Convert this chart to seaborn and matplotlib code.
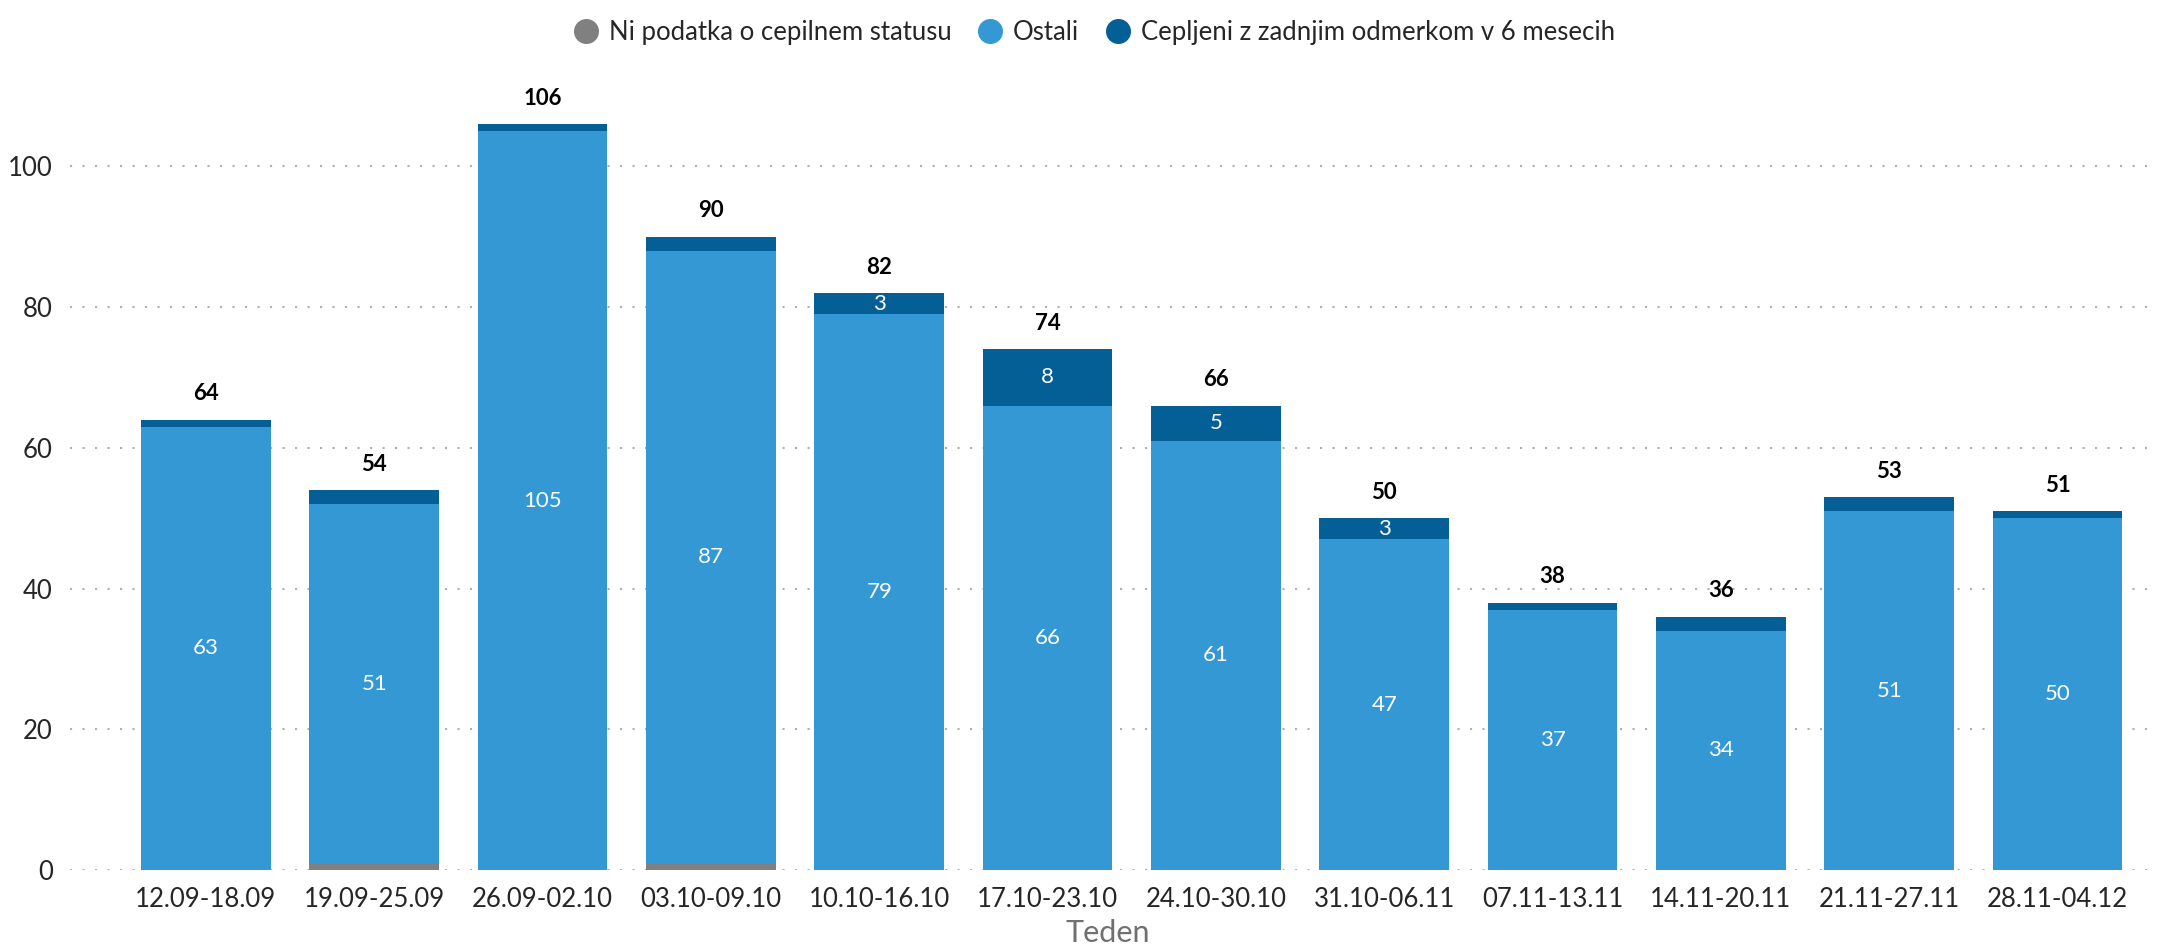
import numpy as np
import pandas as pd
import matplotlib
matplotlib.use("Agg")
import matplotlib.pyplot as plt
import seaborn as sns
from matplotlib.lines import Line2D

# weekly data
weeks = ["12.09-18.09", "19.09-25.09", "26.09-02.10", "03.10-09.10", "10.10-16.10",
         "17.10-23.10", "24.10-30.10", "31.10-06.11", "07.11-13.11", "14.11-20.11",
         "21.11-27.11", "28.11-04.12"]
ni_podatka = [0, 1, 0, 1, 0, 0, 0, 0, 0, 0, 0, 0]
ostali = [63, 51, 105, 87, 79, 66, 61, 47, 37, 34, 51, 50]
cepljeni = [1, 2, 1, 2, 3, 8, 5, 3, 1, 2, 2, 1]

series_names = ["Ni podatka o cepilnem statusu", "Ostali", "Cepljeni z zadnjim odmerkom v 6 mesecih"]
colors = ["#808080", "#3498d4", "#035f96"]

sns.set_theme(style="white")
plt.rcParams["font.family"] = ["Lato", "DejaVu Sans"]

df = pd.DataFrame({"Teden": weeks, series_names[0]: ni_podatka,
                   series_names[1]: ostali, series_names[2]: cepljeni})

fig = plt.figure(figsize=(21.75, 9.52), dpi=100)
ax = fig.add_axes([0.032, 0.0861, 0.955, 0.85])

bottom = np.zeros(len(weeks))
for name, col in zip(series_names, colors):
    sns.barplot(data=df, x="Teden", y=name, bottom=bottom, color=col,
                width=0.77, ax=ax, saturation=1, linewidth=0)
    bottom = bottom + df[name].values

# labels inside bars
for i, w in enumerate(weeks):
    o = ostali[i]
    ax.text(i, ni_podatka[i] + o / 2, str(o), ha="center", va="center",
            color="white", fontsize=16)
    c = cepljeni[i]
    if c >= 3:
        ax.text(i, ni_podatka[i] + o + c / 2, str(c), ha="center", va="center",
                color="white", fontsize=16)
    total = ni_podatka[i] + o + c
    ax.text(i, total + 2.2, str(total), ha="center", va="bottom",
            color="black", fontsize=16, fontweight="bold")

ax.set_ylim(0, 115)
ax.set_xlim(-0.81, 11.53)
ax.set_yticks([0, 20, 40, 60, 80, 100])
ax.yaxis.grid(True, linestyle=(0, (1, 5)), color="#b0b0b0", linewidth=1.5)
ax.set_axisbelow(True)
for s in ax.spines.values():
    s.set_visible(False)
ax.tick_params(axis="both", length=0, labelsize=18.5)
ax.tick_params(axis="y", pad=12)
ax.tick_params(axis="x", pad=12)
ax.set_xlabel("Teden", fontsize=22, color="#707070", labelpad=5)
ax.set_ylabel("")

handles = [Line2D([], [], marker="o", linestyle="", markersize=17,
                  markerfacecolor=c, markeredgecolor=c) for c in colors]
fig.legend(handles, series_names, loc="center", bbox_to_anchor=(0.5, 0.966),
           ncol=3, frameon=False, fontsize=18.5, handletextpad=-0.1,
           columnspacing=0.5)

fig.savefig("out.png", dpi=100)
